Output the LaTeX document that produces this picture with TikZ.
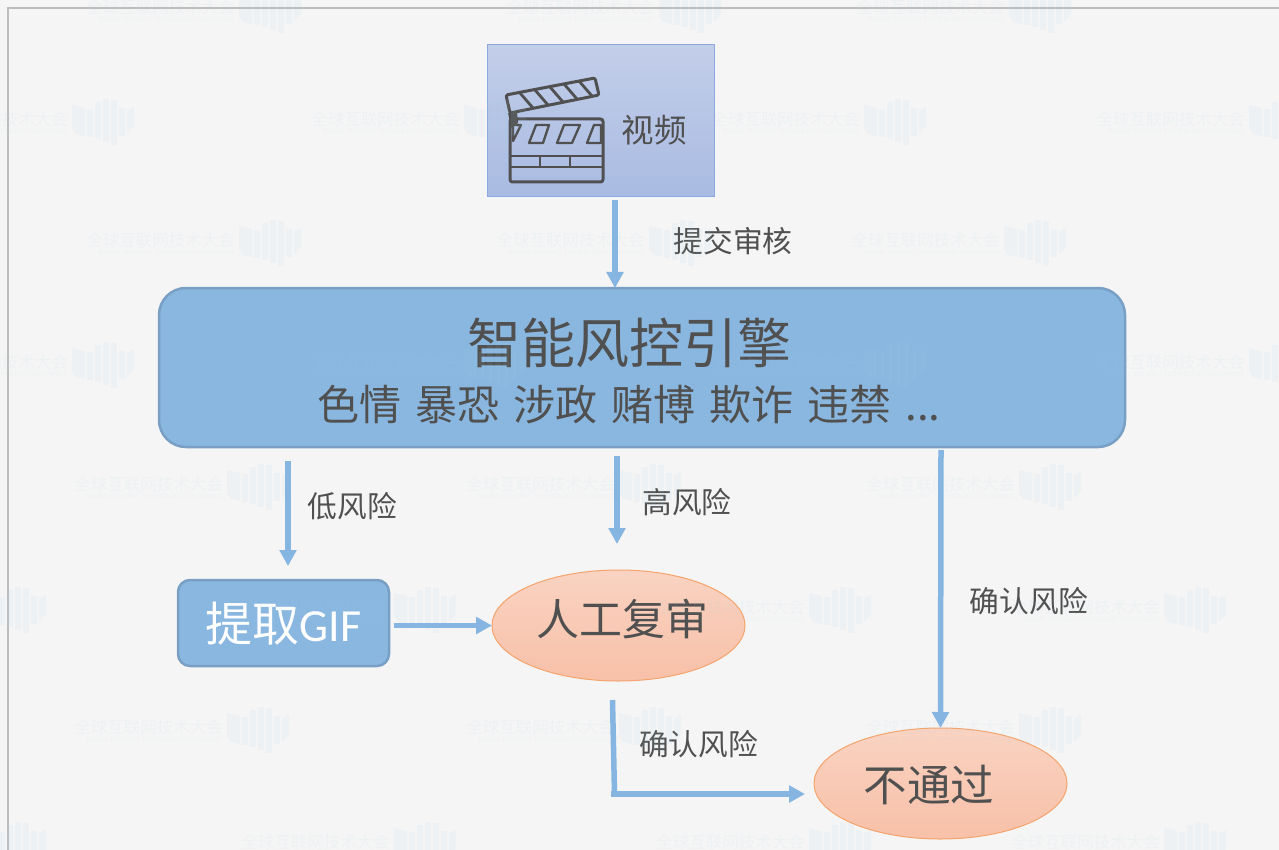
\documentclass[tikz,border=0pt]{standalone}
\usepackage{fontspec}
\setmainfont{Noto Sans CJK SC}
\newfontfamily\latinf{Carlito}
\usetikzlibrary{arrows.meta,shapes.geometric}
\definecolor{pagebg}{HTML}{F5F5F5}
\definecolor{pageline}{HTML}{BDBDBD}
\definecolor{ink}{HTML}{505050}
\definecolor{flow}{HTML}{85B5E0}
\definecolor{blueF}{HTML}{8AB7E0}
\definecolor{blueL}{HTML}{7A9FC4}
\definecolor{vidT}{HTML}{C3CEE9}
\definecolor{vidB}{HTML}{A9BBE2}
\definecolor{vidL}{HTML}{8BA9E0}
\definecolor{ovalT}{HTML}{F9D3C2}
\definecolor{ovalB}{HTML}{F8C0A8}
\definecolor{ovalL}{HTML}{F4A46C}
\definecolor{wmc}{HTML}{9FD0E0}
\newcommand{\fs}[1]{\fontsize{#1}{#1}\selectfont}
\tikzset{
  x=1pt,y=-1pt,
  flowline/.style={draw=flow,line width=5.5pt},
  flowarrow/.style={flowline,-{Triangle[width=16.5pt,length=16pt]}},
  bluebox/.style={draw=blueL,fill=blueF,line width=2.5pt,rounded corners=#1,inner sep=0pt,outer sep=0pt},
  oval/.style={ellipse,draw=ovalL,line width=1pt,top color=ovalT,bottom color=ovalB,minimum width=253pt,minimum height=111pt,inner sep=0pt,outer sep=0pt},
  lbl/.style={text=ink,inner sep=0pt,font=\fs{29.7}},
  big/.style={text=ink,inner sep=0pt,font=\fs{43}},
  clap/.style={draw=ink,line width=3pt,line join=round},
  wmbar/.style={fill=wmc,draw=none},
  wmark/.pic={
    \begin{scope}[opacity=.09]
      \fill[wmbar] (-31,-17) -- (-18,-14) -- (-18,14) -- (-27,12) -- (-31,6) -- cycle;
      \fill[wmbar] (-16,-13) rectangle (-10,15);
      \fill[wmbar] (-8,-20) rectangle (-2,17);
      \fill[wmbar] (0,-23) rectangle (6,20);
      \fill[wmbar] (8,-22) rectangle (14,23);
      \fill[wmbar] (16,-14) rectangle (22,14);
      \fill[wmbar] (24,-12) -- (31,-15) -- (31,4) -- (24,12) -- cycle;
      \node[anchor=east,inner sep=0pt,text=wmc,font=\fs{16.5}] (wmtext) at (-35,-3) {全球互联网技术大会};
      \node[anchor=east,inner sep=0pt,text=wmc,font=\fs{6.2}] (wmsub) at (-35,9) {GLOBAL INTERNET TECHNOLOGY CONFERENCE};
    \end{scope}
  }
}
\begin{document}
\begin{tikzpicture}
\useasboundingbox (0,0) rectangle (1279,850);
\fill[pagebg] (0,0) rectangle (1279,850);
\draw[pageline,line width=1.2pt] (8,850) -- (8,8) -- (1279,8);

% Boxes
\node[rectangle,draw=vidL,line width=1pt,top color=vidT,bottom color=vidB,minimum width=227pt,minimum height=152pt,inner sep=0pt,outer sep=0pt] (video) at (600.5,120.3) {};
\node[bluebox=27pt,minimum width=966pt,minimum height=159pt] (engine) at (642,367.5) {};
\node[bluebox=12pt,minimum width=211pt,minimum height=86pt] (gif) at (283.5,623) {};
\node[oval] (review) at (618.5,625.5) {};
\node[oval] (reject) at (940.5,783.5) {};

% Clapperboard
\draw[clap,rounded corners=2.5pt] (510,119) -- (603,119) -- (603,182) -- (510,182) -- cycle;
\draw[clap,line width=2.3pt] (510,156) -- (603,156) (510,167) -- (603,167) (540,156) -- (540,167) (570,156) -- (570,167);
\draw[clap,line width=2.3pt] (529,143) -- (536,125) -- (549,125) -- (543,143) -- cycle;
\draw[clap,line width=2.3pt] (557,143) -- (564,125) -- (580,125) -- (572,143) -- cycle;
\draw[clap,line width=2.3pt] (587,143) -- (594,125) -- (601,125) -- (601,143) -- cycle;
\draw[clap,line width=2.3pt] (513,125) -- (521,125) -- (513,141) -- cycle;
\draw[clap,rounded corners=2pt] (506,95) -- (595,78) -- (599,95) -- (510,113) -- cycle;
\draw[clap,line width=2.8pt] (520,93) -- (533,108) (535,90) -- (548,105) (550,87) -- (563,102) (564,84) -- (577,99) (579,81) -- (592,96);
\fill[ink] (508,113) -- (517,112) -- (518,123) -- (511,128) -- cycle;

% Connectors
\draw[flowarrow] ([xshift=14.5pt,yshift=-4pt]video.south) -- ([xshift=-27pt]engine.north);
\draw[flowarrow] ([xshift=-354pt,yshift=-14pt]engine.south) -- ([xshift=4.5pt,yshift=14pt]gif.north);
\draw[flowarrow] ([xshift=-25pt,yshift=-9pt]engine.south) -- ([xshift=-1.5pt,yshift=26pt]review.north);
\draw[flowarrow] ([xshift=5pt,yshift=-2.5pt]gif.east) -- (review.west);
\draw[flowarrow] ([xshift=299pt,yshift=-3pt]engine.south) -- (reject.north);
\coordinate (bend) at (614.5,794);
\draw[flowline] ([xshift=-6pt,yshift=-19pt]review.south) -- (bend);
\draw[flowarrow] ([xshift=-3.5pt]bend) -- ([xshift=-9pt,yshift=-10.5pt]reject.west);

% Texts
\node[text=ink,inner sep=0pt,font=\fs{32.5}] (tvideo) at (654,130) {视频};
\node[lbl] (lsubmit) at (733,241) {提交审核};
\node[text=ink,inner sep=0pt,font=\fs{54}] (ttitle) at (629.5,343) {智能风控引擎};
\node[text=ink,inner sep=0pt,font=\fs{42}] (tcats) at (629,405) {\spaceskip=14pt 色情 暴恐 涉政 赌博 欺诈 违禁 ...};
\node[lbl] (llow) at (352.5,506) {低风险};
\node[lbl] (lhigh) at (687,502) {高风险};
\node[lbl] (lconf) at (1029,601) {确认风险};
\node[lbl] (lconfb) at (698.5,744) {确认风险};
\node[big] (treview) at (622,619) {人工复审};
\node[text=ink,inner sep=0pt,font=\fs{43.5}] (treject) at (929,785) {不通过};
\node[text=white,inner sep=0pt,font=\fs{47}] (tgif) at (283.5,624) {提取{\latinf\fs{46}GIF}};

% Watermark
\foreach \wx/\wy in {270/10,690/10,1040/10,
  103/122,495/122,895/122,1280/122,
  270/243,680/243,1035/243,
  103/365,495/365,895/365,1280/365,
  258/487,650/487,1050/487,
  15/610,425/610,840/610,1195/610,
  258/730,650/730,1050/730,
  15/845,425/845,840/845,1195/845}
  \pic at (\wx,\wy) {wmark};
\end{tikzpicture}
\end{document}
